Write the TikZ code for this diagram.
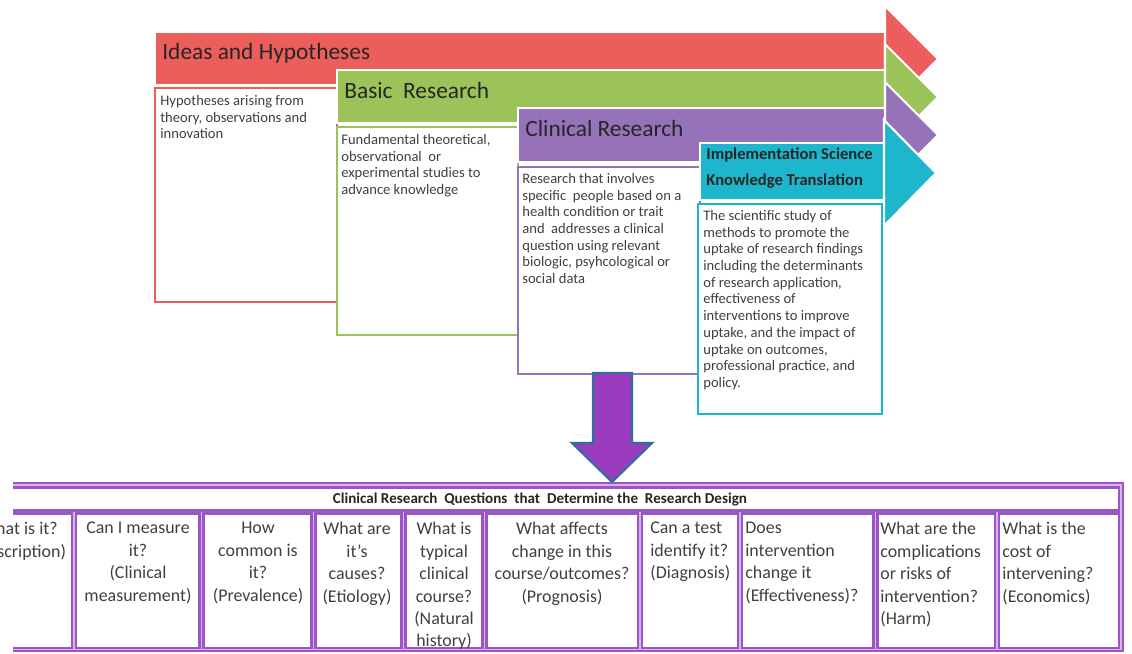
\documentclass[tikz,border=0pt]{standalone}
\usepackage{fontspec}
\setmainfont{Carlito}
\definecolor{ideared}{RGB}{236,94,92}
\definecolor{basicgreen}{RGB}{155,195,90}
\definecolor{clinpurple}{RGB}{150,115,185}
\definecolor{implcyan}{RGB}{30,182,204}
\definecolor{tablepurple}{RGB}{155,85,196}
\definecolor{tablelight}{RGB}{215,180,235}
\definecolor{downfill}{RGB}{155,60,190}
\definecolor{downedge}{RGB}{46,110,158}
\definecolor{bodytext}{RGB}{64,64,64}
\tikzset{
  band/.style={fill=#1,draw=white,line width=1.2pt},
  descbox/.style={draw=#1,fill=white,line width=1.1pt},
  bandtitle/.style={anchor=base west,inner sep=0pt,text=black!85,font=\fontsize{13.3}{16}\selectfont},
  desctext/.style={anchor=north west,inner sep=0pt,text=bodytext,align=left,font=\fontsize{8.3}{9.5}\selectfont},
  cell/.style={draw=tablepurple,fill=white,line width=1.5pt},
  celltext/.style={anchor=north,inner sep=0pt,text=bodytext,align=center,font=\fontsize{10.2}{12.75}\selectfont},
  celltextl/.style={celltext,anchor=north west,align=left}
}
\begin{document}
\begin{tikzpicture}[x=0.02cm,y=-0.02cm]
\clip (0,0) rectangle (1132,653);
% ideas
\draw[band=ideared] (155,32) rectangle (885,85);
\draw[band=ideared] (885,6) -- (938,59) -- (885,112) -- cycle;
\draw[descbox=ideared] (155,88) rectangle (337,302);
\node[bandtitle] (ideas) at (162,59) {Ideas and Hypotheses};
\node[desctext] (ideastext) at (160,95) {Hypotheses arising from\\theory, observations and\\innovation};
% basic
\draw[band=basicgreen] (337,70) rectangle (885,123);
\draw[band=basicgreen] (885,44) -- (938,97) -- (885,150) -- cycle;
\draw[descbox=basicgreen] (337,127) rectangle (518,335);
\node[bandtitle] (basic) at (344,98) {Basic\ \ Research};
\node[desctext] (basictext) at (341,134) {Fundamental theoretical,\\observational\ \ or\\experimental studies to\\advance knowledge};
% clinical
\draw[band=clinpurple] (518,108) rectangle (885,162);
\draw[band=clinpurple] (885,82) -- (938,135) -- (885,188) -- cycle;
\draw[descbox=clinpurple] (518,167) rectangle (700,374);
\node[bandtitle] (clinical) at (525,136) {Clinical Research};
\node[desctext] (clinicaltext) at (522,173) {Research that involves\\specific\ \ people based on a\\health condition or trait\\and\ \ addresses a clinical\\question using relevant\\biologic, psyhcological or\\social data};
% implementation
\draw[band=implcyan] (700,143) rectangle (884,200);
\draw[band=implcyan] (884,120) -- (936,173) -- (884,226) -- cycle;
\draw[descbox=implcyan] (698,204) rectangle (882,414);
\node[bandtitle,font=\bfseries\fontsize{9.45}{11}\selectfont] (impl) at (706,159) {Implementation Science};
\node[bandtitle,font=\bfseries\fontsize{9.45}{11}\selectfont] (knowl) at (706,185) {Knowledge Translation};
\node[desctext] (impltext) at (703,210) {The scientific study of\\methods to promote the\\uptake of research findings\\including the determinants\\of research application,\\effectiveness of\\interventions to improve\\uptake, and the impact of\\uptake on outcomes,\\professional practice, and\\policy.};
% down arrow
\draw[fill=downfill,draw=downedge,line width=1.2pt] (593,373) -- (632,373) -- (632,443) -- (652,443) -- (612,482) -- (572,443) -- (593,443) -- cycle;
% table
\begin{scope}
\clip (13,0) rectangle (1132,653);
\draw[draw=tablepurple,fill=tablelight,line width=1.5pt] (-20,483) rectangle (1123,651);
\draw[cell] (-20,487.5) rectangle (1119,510.5);
\foreach \l/\r in {-60/74,74/201.5,201.5/313.5,313.5/403.5,403.5/484.5,484.5/640,640/740,740/875.5,875.5/997,997/1121}
  \draw[cell] (\l+2,513.5) rectangle (\r-2,648);
\end{scope}
\node[inner sep=0pt,text=black!85,font=\bfseries\fontsize{8.6}{10}\selectfont] (qtitle) at (540,499) {Clinical Research\ \ Questions\ \ that\ \ Determine the\ \ Research Design};
\node[celltext] (q1) at (19,522) {What is it?\\(Description)};
\node[celltext] (q2) at (138,522) {Can I measure\\it?\\(Clinical\\measurement)};
\node[celltext] (q3) at (258,522) {How\\common is\\it?\\(Prevalence)};
\node[celltext] (q4) at (357,522) {What are\\it’s\\causes?\\(Etiology)};
\node[celltext] (q5) at (444,522) {What is\\typical\\clinical\\course?\\(Natural\\history)};
\node[celltext] (q6) at (562,522) {What affects\\change in this\\course/outcomes?\\(Prognosis)};
\node[celltextl] (q7) at (650,522) {Can a test\\identify it?\\(Diagnosis)};
\node[celltextl] (q8) at (745,522) {Does\\intervention\\change it\\(Effectiveness)?};
\node[celltextl] (q9) at (880,522) {What are the\\complications\\or risks of\\intervention?\\(Harm)};
\node[celltextl] (q10) at (1002,522) {What is the\\cost of\\intervening?\\(Economics)};
\end{tikzpicture}
\end{document}
